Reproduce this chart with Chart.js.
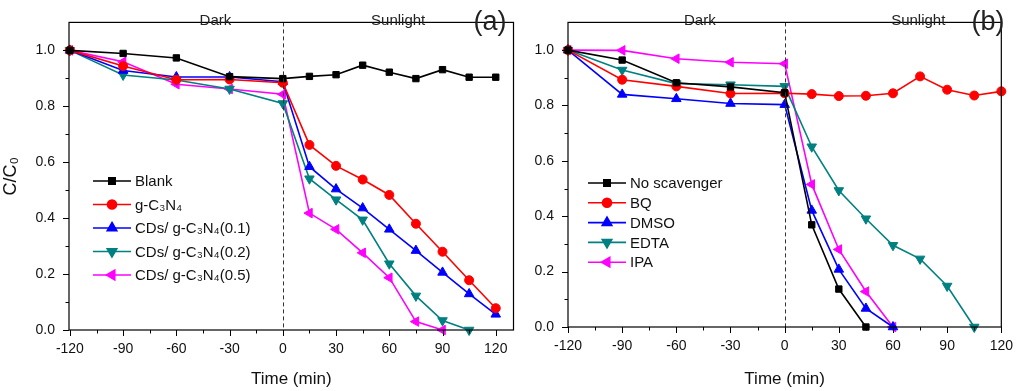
<!doctype html>
<html lang="en">
<head>
  <meta charset="utf-8">
  <title>Photocatalytic degradation C/C0</title>
  <script src="https://cdn.jsdelivr.net/npm/chart.js"></script>
  <style>
    body { margin: 0; background: #fff; }
    .panel { position: absolute; top: 0; }
  </style>
</head>
<body>
  <div class="panel" style="left:0"><canvas id="chartA" width="520" height="391"></canvas></div>
  <div class="panel" style="left:520px"><canvas id="chartB" width="504" height="391"></canvas></div>

  <script>
    // sampling times (min)
    const time = [-120, -90, -60, -30, 0, 15, 30, 45, 60, 75, 90, 105, 120];
    const xTicks = [-120, -90, -60, -30, 0, 30, 60, 90, 120];
    const yTicks = [0, 0.2, 0.4, 0.6, 0.8, 1.0];

    // (a) catalysts
    const labelsA = ['Blank', 'g-C₃N₄', 'CDs/ g-C₃N₄(0.1)', 'CDs/ g-C₃N₄(0.2)', 'CDs/ g-C₃N₄(0.5)'];
    const blank = [1.0, 0.989, 0.973, 0.906, 0.899, 0.907, 0.913, 0.947, 0.922, 0.899, 0.931, 0.904, 0.904];
    const gC3N4 = [1.0, 0.944, 0.895, 0.896, 0.884, 0.662, 0.587, 0.538, 0.483, 0.380, 0.280, 0.178, 0.078];
    const cds01 = [1.0, 0.928, 0.905, 0.905, 0.888, 0.584, 0.504, 0.436, 0.360, 0.284, 0.206, 0.129, 0.056];
    const cds02 = [1.0, 0.912, 0.894, 0.862, 0.810, 0.541, 0.466, 0.394, 0.237, 0.122, 0.034, 0.0];
    const cds05 = [1.0, 0.959, 0.879, 0.862, 0.843, 0.418, 0.360, 0.276, 0.187, 0.030, 0.0];

    // (b) scavengers
    const labelsB = ['No scavenger', 'BQ', 'DMSO', 'EDTA', 'IPA'];
    const noScav = [1.0, 0.964, 0.882, 0.867, 0.846, 0.369, 0.137, 0.0];
    const bq = [1.0, 0.893, 0.869, 0.843, 0.844, 0.841, 0.834, 0.835, 0.844, 0.905, 0.857, 0.836, 0.851];
    const dmso = [1.0, 0.840, 0.824, 0.807, 0.803, 0.421, 0.208, 0.067, 0.0];
    const edta = [1.0, 0.928, 0.879, 0.875, 0.869, 0.651, 0.493, 0.391, 0.295, 0.246, 0.148, 0.0];
    const ipa = [1.0, 0.999, 0.969, 0.956, 0.951, 0.515, 0.280, 0.128, 0.0];

    const phaseLabels = ['Dark', 'Sunlight'];

    const colors = ['#000000', '#ff0000', '#0000ff', '#008080', '#ff00ff'];
    const markers = [
      { style: 'rect', rot: 0, r: 4.5 },
      { style: 'circle', rot: 0, r: 4.5 },
      { style: 'triangle', rot: 0, r: 5.5 },
      { style: 'triangle', rot: 180, r: 5.5 },
      { style: 'triangle', rot: 270, r: 5.5 }
    ];
    const FONT = '"Liberation Sans", Arial, sans-serif';

    function makeSets(labels, series) {
      return series.map((vals, i) => ({
        label: labels[i],
        data: vals.map((v, j) => ({ x: time[j], y: v })),
        borderColor: colors[i],
        backgroundColor: colors[i],
        borderWidth: 1.6,
        pointStyle: markers[i].style,
        pointRotation: markers[i].rot,
        pointRadius: markers[i].r,
        pointBorderWidth: 1,
        tension: 0,
        clip: false
      }));
    }

    // frame, minor ticks, dashed divider, phase text, inset legend
    const decor = {
      id: 'decor',
      afterDatasetsDraw(chart, args, o) {
        const { ctx, chartArea: a, scales: { x, y } } = chart;
        ctx.save();
        // dashed line at t = 0
        ctx.strokeStyle = '#333';
        ctx.lineWidth = 1;
        ctx.setLineDash([4, 3]);
        const x0 = Math.round(x.getPixelForValue(0)) + 0.5;
        ctx.beginPath(); ctx.moveTo(x0, a.top); ctx.lineTo(x0, a.bottom); ctx.stroke();
        ctx.setLineDash([]);
        // frame
        ctx.strokeStyle = '#000';
        ctx.lineWidth = 1.2;
        ctx.strokeRect(a.left, a.top, a.right - a.left, a.bottom - a.top);
        // ticks (outward)
        ctx.lineWidth = 1;
        for (let t = -120; t <= 120; t += 15) {
          const px = Math.round(x.getPixelForValue(t)) + 0.5;
          const len = t % 30 === 0 ? 6 : 3.5;
          ctx.beginPath(); ctx.moveTo(px, a.bottom); ctx.lineTo(px, a.bottom + len); ctx.stroke();
        }
        for (let k = 0; k <= 10; k++) {
          const py = Math.round(y.getPixelForValue(k / 10)) + 0.5;
          const len = k % 2 === 0 ? 6 : 3.5;
          ctx.beginPath(); ctx.moveTo(a.left, py); ctx.lineTo(a.left - len, py); ctx.stroke();
        }
        // phase labels
        ctx.fillStyle = '#222';
        ctx.font = '15px ' + FONT;
        ctx.textAlign = 'center';
        ctx.textBaseline = 'middle';
        ctx.fillText(phaseLabels[0], x.getPixelForValue(o.darkX), 21);
        ctx.fillText(phaseLabels[1], x.getPixelForValue(o.sunX), 21);
        ctx.font = '27px ' + FONT;
        ctx.fillText(o.tag, o.tagPx, 23);
        // legend
        ctx.font = '15px ' + FONT;
        ctx.textAlign = 'left';
        chart.data.datasets.forEach((ds, i) => {
          const ly = o.legY + i * o.legStep;
          ctx.strokeStyle = ds.borderColor;
          ctx.lineWidth = 1.6;
          ctx.beginPath(); ctx.moveTo(o.legX, ly); ctx.lineTo(o.legX + 38, ly); ctx.stroke();
          ctx.fillStyle = ds.backgroundColor;
          Chart.helpers.drawPoint(ctx, {
            pointStyle: ds.pointStyle, rotation: ds.pointRotation,
            radius: ds.pointRadius, borderWidth: 1
          }, o.legX + 19, ly);
          ctx.fill();
          ctx.fillStyle = '#111';
          ctx.fillText(ds.label, o.legX + 42, ly + 1);
        });
        ctx.restore();
      }
    };

    function makeChart(id, sets, opt) {
      new Chart(document.getElementById(id), {
        type: 'line',
        data: { datasets: sets },
        plugins: [decor],
        options: {
          responsive: false,
          animation: false,
          layout: { padding: { top: 2, right: opt.padRight, left: 0, bottom: 0 } },
          plugins: { legend: { display: false }, tooltip: { enabled: false }, decor: opt.decor },
          scales: {
            x: {
              type: 'linear',
              min: opt.xMin, max: opt.xMax,
              afterBuildTicks: s => { s.ticks = xTicks.map(v => ({ value: v })); },
              afterFit: s => { s.height = opt.xHeight; },
              grid: { display: false, drawTicks: false },
              border: { display: false },
              ticks: { color: '#111', padding: 11, maxRotation: 0, font: { family: FONT, size: 14 } },
              title: { display: true, text: 'Time (min)', color: '#111', padding: { top: 4, bottom: 1 }, font: { family: FONT, size: 17 } }
            },
            y: {
              min: 0, max: 1.1,
              afterBuildTicks: s => { s.ticks = yTicks.map(v => ({ value: v })); },
              afterFit: s => { s.width = opt.yWidth; },
              grid: { display: false, drawTicks: false },
              border: { display: false },
              ticks: { color: '#111', padding: 14, callback: v => v.toFixed(1), font: { family: FONT, size: 14 } },
              title: { display: opt.yTitle !== '', text: opt.yTitle, color: '#111', padding: 0, font: { family: FONT, size: 18 } }
            }
          }
        }
      });
    }

    makeChart('chartA', makeSets(labelsA, [blank, gC3N4, cds01, cds02, cds05]), {
      xMin: -120.5, xMax: 130, padRight: 3, xHeight: 61, yWidth: 69, yTitle: 'C/C₀',
      decor: { darkX: -38, sunX: 65, tag: '(a)', tagPx: 490, legX: 93, legY: 181, legStep: 23.5 }
    });
    makeChart('chartB', makeSets(labelsB, [noScav, bq, dmso, edta, ipa]), {
      xMin: -120, xMax: 120, padRight: 13, xHeight: 64, yWidth: 48, yTitle: '',
      decor: { darkX: -47, sunX: 74, tag: '(b)', tagPx: 468, legX: 68, legY: 183, legStep: 19.8 }
    });
  </script>
</body>
</html>
